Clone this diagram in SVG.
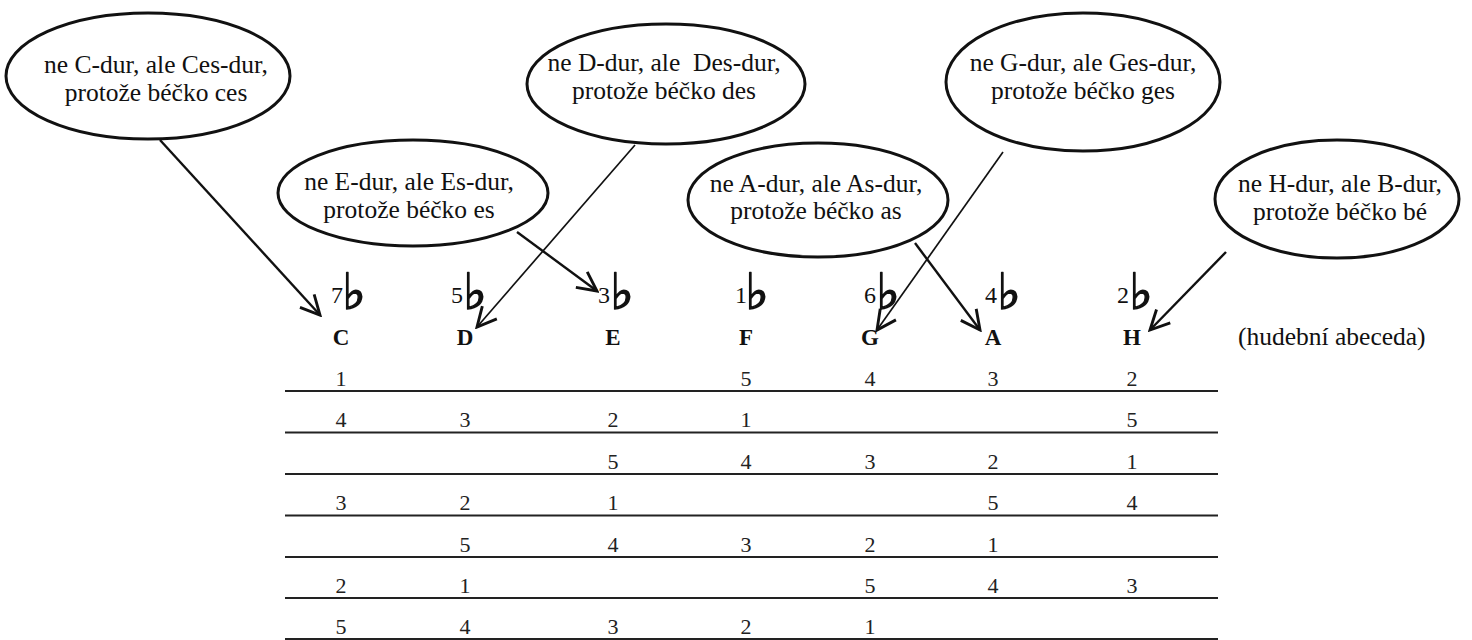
<svg xmlns="http://www.w3.org/2000/svg" width="1472" height="640" viewBox="0 0 1472 640" font-family="'Liberation Serif', 'Times New Roman', serif">
<defs>
<marker id="arr" viewBox="0 0 20 20" refX="18" refY="10" markerWidth="24" markerHeight="24" markerUnits="userSpaceOnUse" orient="auto">
<path d="M2,2 L18,10 L2,18" fill="none" stroke="#111" stroke-width="2.4" stroke-linejoin="miter"/>
</marker>
<style>
.bub{fill:#fff;stroke:#111;stroke-width:3}
.bt{font-family:'Liberation Serif','Times New Roman',serif;font-size:25.5px;fill:#111;text-anchor:middle}
.lt{font-family:'Liberation Serif','Times New Roman',serif;font-size:23px;font-weight:bold;fill:#111;text-anchor:middle}
.nt{font-family:'Liberation Serif','Times New Roman',serif;font-size:22px;fill:#222;text-anchor:middle}
.fl{font-family:'Liberation Serif','Times New Roman',serif;font-size:24px;fill:#111}
.flat{font-family:'DejaVu Sans',sans-serif;font-weight:bold;font-size:50px;fill:#111;stroke:#111;stroke-width:1.4}
.rule{stroke:#222;stroke-width:2}
.con{fill:none;stroke:#111;stroke-width:2.4;marker-end:url(#arr)}
.thin{stroke-width:1.7}
</style>
</defs>
<rect width="1472" height="640" fill="#fff"/>

<g id="bubble-c">
<ellipse class="bub" cx="148" cy="76" rx="142" ry="63"/>
<text class="bt" x="156" y="73">ne C-dur, ale Ces-dur,</text>
<text class="bt" x="156" y="101">protože béčko ces</text>
</g>
<g id="bubble-d">
<ellipse class="bub" cx="666" cy="84" rx="139" ry="60"/>
<text class="bt" x="664" y="71" xml:space="preserve">ne D-dur, ale  Des-dur,</text>
<text class="bt" x="664" y="99">protože béčko des</text>
</g>
<g id="bubble-g">
<ellipse class="bub" cx="1083" cy="82" rx="137" ry="69"/>
<text class="bt" x="1083" y="71">ne G-dur, ale Ges-dur,</text>
<text class="bt" x="1083" y="99">protože béčko ges</text>
</g>
<g id="bubble-e">
<ellipse class="bub" cx="413" cy="193" rx="135" ry="53"/>
<text class="bt" x="409" y="190">ne E-dur, ale Es-dur,</text>
<text class="bt" x="409" y="218">protože béčko es</text>
</g>
<g id="bubble-a">
<ellipse class="bub" cx="818" cy="200" rx="130" ry="57"/>
<text class="bt" x="816" y="192">ne A-dur, ale As-dur,</text>
<text class="bt" x="816" y="219">protože béčko as</text>
</g>
<g id="bubble-h">
<ellipse class="bub" cx="1337" cy="199" rx="122" ry="59"/>
<text class="bt" x="1340" y="192">ne H-dur, ale B-dur,</text>
<text class="bt" x="1340" y="220">protože béčko bé</text>
</g>

<g id="connectors">
<line class="con" x1="160" y1="140" x2="320" y2="315"/>
<line class="con" x1="517" y1="232" x2="597" y2="291"/>
<line class="con thin" x1="635" y1="145" x2="477" y2="327"/>
<line class="con" x1="915" y1="243" x2="980" y2="330"/>
<line class="con thin" x1="1003" y1="152" x2="877" y2="330"/>
<line class="con" x1="1226" y1="252" x2="1150" y2="330"/>
</g>

<g id="flats">
<text class="fl" x="331" y="303">7</text><text class="flat" x="342" y="309">♭</text>
<text class="fl" x="451" y="303">5</text><text class="flat" x="463" y="309">♭</text>
<text class="fl" x="598" y="303">3</text><text class="flat" x="610" y="309">♭</text>
<text class="fl" x="735" y="303">1</text><text class="flat" x="745" y="309">♭</text>
<text class="fl" x="864" y="303">6</text><text class="flat" x="876" y="309">♭</text>
<text class="fl" x="985" y="303">4</text><text class="flat" x="997" y="309">♭</text>
<text class="fl" x="1117" y="303">2</text><text class="flat" x="1129" y="309">♭</text>
</g>

<g id="letters">
<text class="lt" x="341" y="345">C</text>
<text class="lt" x="465" y="345">D</text>
<text class="lt" x="613" y="345">E</text>
<text class="lt" x="746" y="345">F</text>
<text class="lt" x="870" y="345">G</text>
<text class="lt" x="993" y="345">A</text>
<text class="lt" x="1132" y="345">H</text>
<text x="1238" y="345" font-size="25.5" fill="#111">(hudební abeceda)</text>
</g>

<g id="table">
<line class="rule" x1="285" y1="391" x2="1218" y2="391"/>
<line class="rule" x1="285" y1="432.5" x2="1218" y2="432.5"/>
<line class="rule" x1="285" y1="474" x2="1218" y2="474"/>
<line class="rule" x1="285" y1="515.5" x2="1218" y2="515.5"/>
<line class="rule" x1="285" y1="557" x2="1218" y2="557"/>
<line class="rule" x1="285" y1="598" x2="1218" y2="598"/>
<line class="rule" x1="285" y1="639" x2="1218" y2="639"/>
<g>
<text class="nt" x="341" y="386">1</text><text class="nt" x="746" y="386">5</text><text class="nt" x="870" y="386">4</text><text class="nt" x="993" y="386">3</text><text class="nt" x="1132" y="386">2</text>
<text class="nt" x="341" y="427">4</text><text class="nt" x="465" y="427">3</text><text class="nt" x="613" y="427">2</text><text class="nt" x="746" y="427">1</text><text class="nt" x="1132" y="427">5</text>
<text class="nt" x="613" y="469">5</text><text class="nt" x="746" y="469">4</text><text class="nt" x="870" y="469">3</text><text class="nt" x="993" y="469">2</text><text class="nt" x="1132" y="469">1</text>
<text class="nt" x="341" y="510">3</text><text class="nt" x="465" y="510">2</text><text class="nt" x="613" y="510">1</text><text class="nt" x="993" y="510">5</text><text class="nt" x="1132" y="510">4</text>
<text class="nt" x="465" y="552">5</text><text class="nt" x="613" y="552">4</text><text class="nt" x="746" y="552">3</text><text class="nt" x="870" y="552">2</text><text class="nt" x="993" y="552">1</text>
<text class="nt" x="341" y="593">2</text><text class="nt" x="465" y="593">1</text><text class="nt" x="870" y="593">5</text><text class="nt" x="993" y="593">4</text><text class="nt" x="1132" y="593">3</text>
<text class="nt" x="341" y="634">5</text><text class="nt" x="465" y="634">4</text><text class="nt" x="613" y="634">3</text><text class="nt" x="746" y="634">2</text><text class="nt" x="870" y="634">1</text>
</g>
</g>
</svg>
